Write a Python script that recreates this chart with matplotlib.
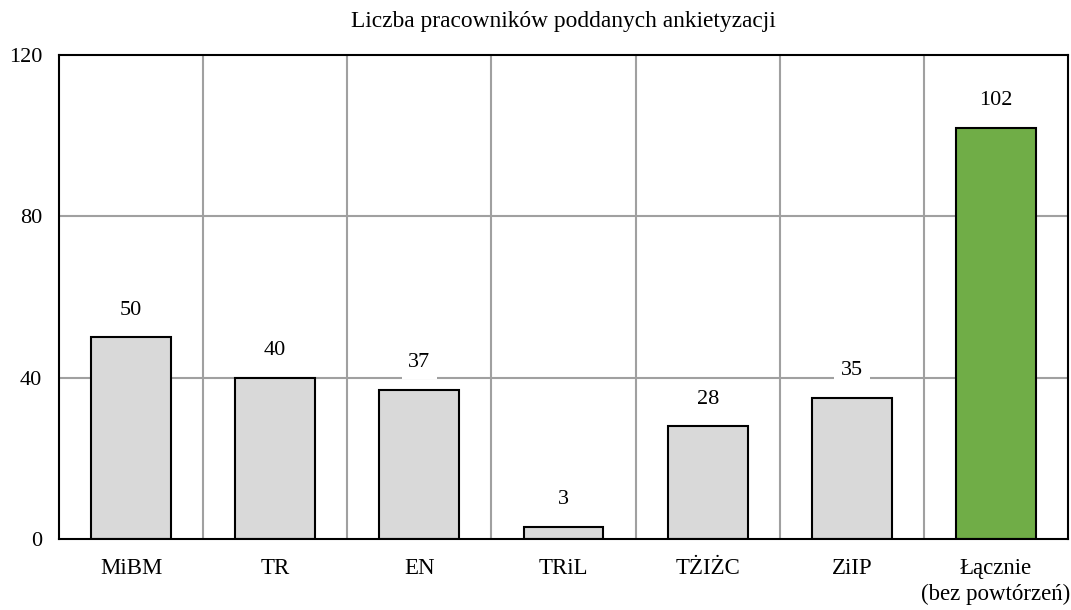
import matplotlib
matplotlib.use("Agg")
import matplotlib.pyplot as plt
import numpy as np

categories = ["MiBM", "TR", "EN", "TRiL", "TŻIŻC", "ZiIP", "Łącznie\n(bez powtórzeń)"]
values = [50, 40, 37, 3, 28, 35, 102]
bar_colors = ["#d9d9d9"] * 6 + ["#70ad47"]
yticks = [0, 40, 80, 120]
title = "Liczba pracowników poddanych ankietyzacji"

plt.rcParams["font.family"] = ["Liberation Serif", "DejaVu Serif"]

fig = plt.figure(figsize=(10.71, 6.10), dpi=100)
ax = fig.add_axes([59/1071, 1 - 539/610, (1068-59)/1071, (539-55)/610])

x = np.arange(len(categories))
ax.bar(x, values, width=0.555, color=bar_colors, edgecolor="black", linewidth=1.5, zorder=3)

for xi, v in zip(x, values):
    ax.text(xi, v + 6.7, str(v), ha="center", va="center", fontsize=16, zorder=5,
            bbox=dict(boxstyle="square,pad=0.3", facecolor="white", edgecolor="none"))

ax.set_xlim(-0.5, len(categories) - 0.5)
ax.set_ylim(0, 120)
ax.set_yticks(yticks)
ax.set_xticks(x)
ax.set_xticklabels(categories, fontsize=16.5, linespacing=1.25)
ax.tick_params(axis="y", labelsize=16, length=0, pad=12)
ax.tick_params(axis="x", length=0, pad=14)

for b in np.arange(0.5, len(categories) - 0.5, 1.0):
    ax.axvline(b, color="#a0a0a0", linewidth=1.5, zorder=1)
for yv in yticks[1:-1]:
    ax.axhline(yv, color="#a0a0a0", linewidth=1.5, zorder=1)

for s in ax.spines.values():
    s.set_color("black")
    s.set_linewidth(1.5)
    s.set_zorder(4)

fig.text((59 + 1068) / 2 / 1071, 1 - 22 / 610, title, ha="center", va="center", fontsize=16.8)

fig.savefig("out.png", dpi=100)
